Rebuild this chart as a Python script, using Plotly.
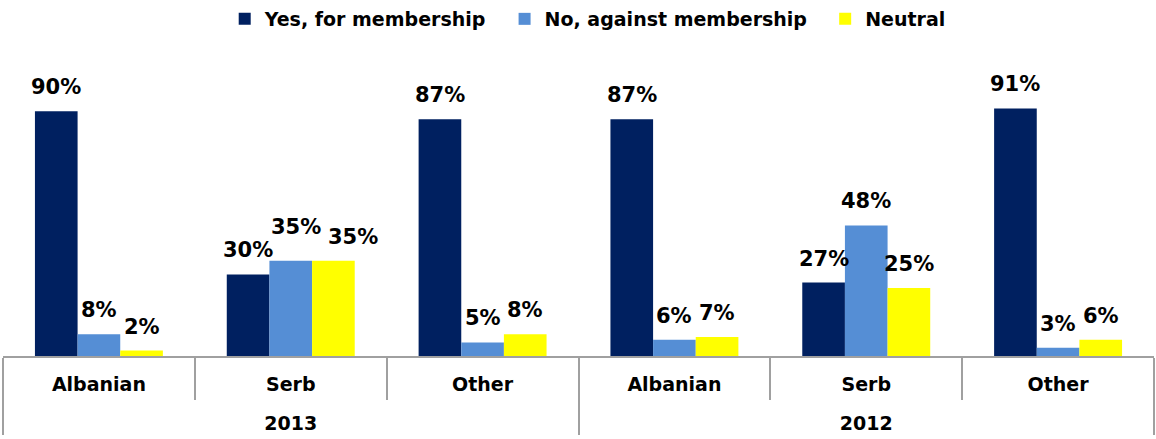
import plotly.graph_objects as go

years = ["2013", "2013", "2013", "2012", "2012", "2012"]
groups = ["Albanian", "Serb", "Other", "Albanian", "Serb", "Other"]
yes_vals = [90, 30, 87, 87, 27, 91]
no_vals = [8, 35, 5, 6, 48, 3]
neutral_vals = [2, 35, 8, 7, 25, 6]

series = [
    ("Yes, for membership", yes_vals, "#002060"),
    ("No, against membership", no_vals, "#558ED5"),
    ("Neutral", neutral_vals, "#FFFF00"),
]

font_family = "DejaVu Sans"
bargap = 0.333
n_series = len(series)
bar_w = (1 - bargap) / n_series
# label nudges (dx, dy in pixels) to avoid overlapping neighbouring labels, as in the original
label_nudge = {(1, 1): (5, 10), (1, 2): (20, 0)}

# second-level labels are pushed down one line to sit below the category row
year_labels = ["<br>" + y for y in years]

fig = go.Figure()
annotations = []
for k, (name, vals, color) in enumerate(series):
    legend_name = name + ("\u00a0\u00a0" if k < n_series - 1 else "")
    fig.add_trace(go.Bar(
        x=[year_labels, groups], y=vals, name=legend_name,
        marker=dict(color=color, line=dict(width=0)),
    ))
    for i, v in enumerate(vals):
        dx, dy = label_nudge.get((i, k), (0, 0))
        annotations.append(dict(
            x=i + (k - (n_series - 1) / 2) * bar_w, y=v, xref="x", yref="y",
            text=f"{v}%", showarrow=False, yanchor="bottom", xanchor="center",
            yshift=10 + dy, xshift=dx,
            font=dict(family=font_family, size=21, color="black", weight="bold"),
        ))

fig.update_layout(
    width=1156, height=439,
    margin=dict(l=3, r=2, t=84, b=83),
    paper_bgcolor="white", plot_bgcolor="white",
    barmode="group", bargap=bargap, bargroupgap=0,
    showlegend=True,
    legend=dict(orientation="h", x=0.508, xanchor="center", y=1.0, yanchor="top",
                yref="container",
                font=dict(family=font_family, size=19, color="black", weight="bold"),
                tracegroupgap=0),
    font=dict(family=font_family, color="black"),
    annotations=annotations,
)
fig.update_xaxes(
    type="multicategory",
    showline=True, linecolor="#A0A0A0", linewidth=2,
    ticks="outside", tickson="boundaries", ticklen=42, tickcolor="#A0A0A0", tickwidth=2,
    showdividers=True, dividercolor="#A0A0A0", dividerwidth=2,
    ticklabelstandoff=10,
    tickfont=dict(family=font_family, size=19, color="black", weight="bold"),
    showgrid=False,
)
fig.update_yaxes(range=[0, 100], visible=False, showgrid=False, zeroline=False)

fig.write_html("out.html")
